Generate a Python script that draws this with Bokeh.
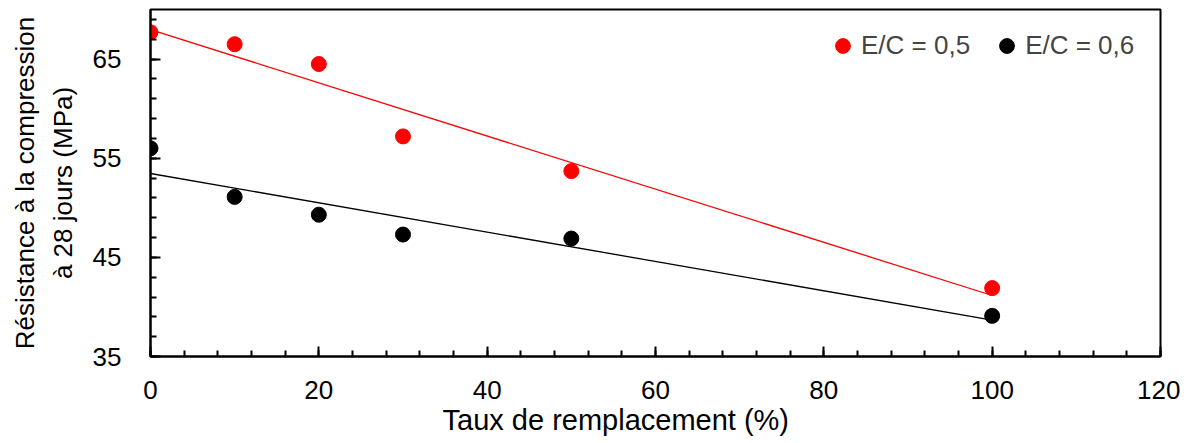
import numpy as np
from bokeh.plotting import figure
from bokeh.models import Range1d, FixedTicker, Legend, LegendItem, Title
from bokeh.embed import file_html
from bokeh.resources import INLINE

# Data
taux = [0, 10, 20, 30, 50, 100]
ec05 = [67.7, 66.5, 64.5, 57.2, 53.7, 41.9]
ec06 = [56.0, 51.1, 49.3, 47.3, 46.9, 39.1]
series_labels = ["E/C = 0,5", "E/C = 0,6"]
x_ticks = [0, 20, 40, 60, 80, 100, 120]
y_ticks = [35, 45, 55, 65]
x_title = "Taux de remplacement (%)"
y_title = "Résistance à la compression\nà 28 jours (MPa)"

FONT = "Liberation Sans"

p = figure(frame_width=1010, frame_height=347, min_border_left=150, min_border_top=9,
           min_border_right=20, min_border_bottom=84,
           x_range=Range1d(0, 120), y_range=Range1d(35, 70),
           output_backend="svg", toolbar_location=None)
p.grid.visible = False
p.outline_line_color = "black"
p.outline_line_width = 2

# trend lines (least squares from the data)
xs = np.array([min(taux), max(taux)], dtype=float)
for ys, col in [(ec05, "red"), (ec06, "black")]:
    a, b = np.polyfit(taux, ys, 1)
    p.line(xs, a * xs + b, line_color=col, line_width=1.3)

r1 = p.scatter(taux, ec05, size=15, fill_color="red", line_color="red")
r2 = p.scatter(taux, ec06, size=15, fill_color="black", line_color="black")

for ax in (p.xaxis[0], p.yaxis[0]):
    ax.axis_line_width = 2
    ax.major_tick_line_width = 2
    ax.minor_tick_line_width = 2
    ax.major_tick_in = 10
    ax.major_tick_out = 0
    ax.minor_tick_in = 6
    ax.minor_tick_out = 0
    ax.major_label_text_font = FONT
    ax.major_label_text_font_size = "26px"
    ax.major_label_text_color = "black"
    ax.axis_label_text_font = FONT
    ax.axis_label_text_font_style = "normal"
    ax.axis_label_text_color = "black"

p.xaxis.ticker = FixedTicker(ticks=x_ticks, minor_ticks=list(range(0, 121, 4)))
p.yaxis.ticker = FixedTicker(ticks=y_ticks, minor_ticks=list(range(35, 71, 2)))
p.xaxis.major_label_standoff = 24
p.yaxis.major_label_standoff = 29
p.yaxis.axis_label = y_title
p.yaxis.axis_label_text_font_size = "26px"
p.yaxis.axis_label_text_line_height = 1.25
p.yaxis.axis_label_standoff = 12

p.add_layout(Title(text=x_title, align="left", offset=292, standoff=1,
                   text_font=FONT, text_font_size="29px", text_font_style="normal",
                   text_color="black"), "below")

legend = Legend(items=[LegendItem(label=series_labels[0], renderers=[r1]),
                       LegendItem(label=series_labels[1], renderers=[r2])],
                location=(674, 292), orientation="horizontal")
legend.border_line_color = None
legend.background_fill_alpha = 0
legend.label_text_font = FONT
legend.label_text_font_size = "26px"
legend.label_height = 37
legend.glyph_width = 37
legend.glyph_height = 37
legend.label_standoff = 0
legend.spacing = 18
legend.margin = 0
legend.padding = 0
p.add_layout(legend)

open("out.html", "w").write(file_html(p, INLINE))
